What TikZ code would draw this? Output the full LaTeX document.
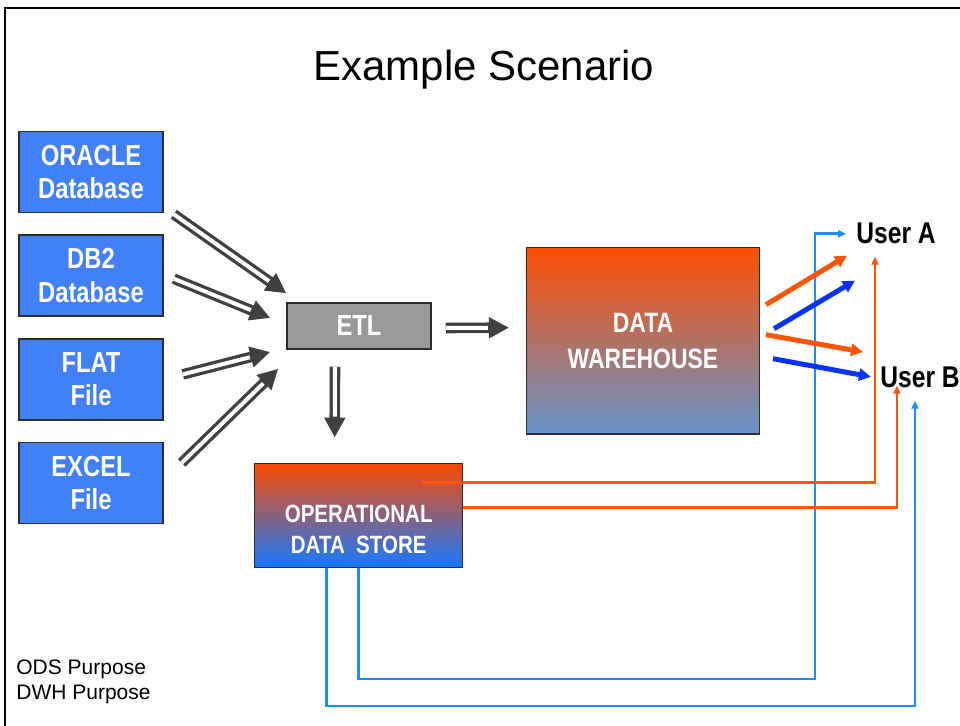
\documentclass[tikz,border=0pt]{standalone}
\usepackage{fontspec}
\setmainfont{Liberation Sans}
\newfontfamily\narrowsans[FakeStretch=0.82]{Liberation Sans}
\usepackage{tikz}
\usetikzlibrary{positioning,arrows.meta,calc}

\definecolor{srcblue}{RGB}{66,128,250}
\definecolor{boxline}{RGB}{45,45,45}
\definecolor{etlgray}{RGB}{153,153,153}
\definecolor{feedgray}{RGB}{64,64,64}
\definecolor{dwtop}{RGB}{252,78,0}
\definecolor{dwbot}{RGB}{102,150,204}
\definecolor{odstop}{RGB}{252,74,0}
\definecolor{odsbot}{RGB}{20,120,255}
\definecolor{dworange}{RGB}{255,85,0}
\definecolor{dwblue}{RGB}{5,50,255}
\definecolor{thinorange}{RGB}{255,85,10}
\definecolor{thinblue}{RGB}{30,140,255}

\begin{document}
\begin{tikzpicture}[x=0.5pt,y=-0.5pt,node distance=10.6pt,
    source/.style={draw=boxline,line width=0.75pt,fill=srcblue,text=white,minimum width=72pt,minimum height=40.5pt,inner sep=0pt,align=center,font=\narrowsans\bfseries\fontsize{14.5}{16.75}\selectfont},
    feed/.style={draw=feedgray,line width=5.3pt,-{Triangle[length=10pt,width=10pt]},postaction={draw=white,line width=2pt,-,shorten >=10.5pt}},
    dwflow/.style={line width=2.5pt,-{Triangle[length=6pt,width=6pt]}},
    odsflow/.style={line width=1.35pt,-{Triangle[length=4pt,width=3.5pt]}},
    user/.style={inner sep=0pt,anchor=base west,font=\narrowsans\bfseries\fontsize{15}{18}\selectfont}]
    \useasboundingbox (0,0) rectangle (960,726);
    \draw[line width=1pt] (5,726) -- (5,8) -- (960,8);

    \node[anchor=base,font=\fontsize{21}{25}\selectfont] (title) at (484,81) {Example Scenario};

    % sources
    \node[source] (oracle) at (91,172) {ORACLE\\Database};
    \node[source,below=of oracle] (db2) {DB2\\Database};
    \node[source,below=of db2] (flat) {FLAT\\File};
    \node[source,below=of flat] (excel) {EXCEL\\File};

    \node[draw=boxline,line width=0.75pt,fill=etlgray,text=white,minimum width=72pt,minimum height=23pt,font=\narrowsans\bfseries\fontsize{14.5}{16.75}\selectfont] (etl) at (359,326) {ETL};
    \node[draw=boxline,line width=0.75pt,top color=dwtop,bottom color=dwbot,text=white,minimum width=116.3pt,minimum height=93.3pt,align=center,font=\narrowsans\bfseries\fontsize{14}{18}\selectfont] (dw) at (643,340.7) {DATA\\WAREHOUSE};
    \node[draw=boxline,line width=0.75pt,top color=odstop,bottom color=odsbot,text=white,minimum width=104pt,minimum height=52pt,align=center,font=\narrowsans\bfseries\fontsize{12.5}{15.8}\selectfont] (ods) at (358.7,515.3) {\rule{0pt}{23pt}OPERATIONAL\\DATA\ \ STORE};

    \node[user] (usera) at (856,244) {User A};
    \node[user] (userb) at (880,388) {User B};

    \node[anchor=north west,inner sep=0pt,align=left,font=\fontsize{10.5}{12.5}\selectfont] (purpose) at (16,659) {ODS Purpose\\DWH Purpose};

    % ETL feeds
    \draw[feed] ($(oracle.south east)+(10,1)$) -- ($(etl.north west)+(0,-9)$);
    \draw[feed] ($(db2.east)+(10,3)$) -- ($(etl.west)+(-16,-8)$);
    \draw[feed] ($(flat.east)+(19,-5)$) -- ($(etl.west)+(-16,26)$);
    \draw[feed] ($(excel.north east)+(18,21)$) -- ($(etl.south west)+(-8,19)$);
    \draw[feed] ($(etl.south)+(-24,17)$) -- ($(ods.north)+(-24,-25)$);
    \draw[feed] ($(etl.east)+(14,2)$) -- ($(dw.west)+(-17,-13)$);

    % ODS to users
    \draw[odsflow,draw=thinblue] (ods.south) -- ++(0,111) -| ($(usera.west)+(-41,0)$) -- ($(usera.west)+(-10,0)$);
    \draw[odsflow,draw=thinblue] ($(ods.south)+(-32,0)$) -- ++(0,138) -| ($(userb.south west)+(35,12)$);
    \draw[odsflow,draw=thinorange] ($(ods.north east)+(-41,20)$) -| ($(usera.south west)+(19,12)$);
    \draw[odsflow,draw=thinorange] ($(ods.east)+(0,-8)$) -| ($(userb.south west)+(17,-3)$);

    % DWH to users
    \draw[dwflow,draw=dworange] ($(dw.east)+(6,-36)$) -- ($(usera.south west)+(-9,11)$);
    \draw[dwflow,draw=dwblue] ($(dw.east)+(14,-12)$) -- ($(usera.south west)+(-1,36)$);
    \draw[dwflow,draw=dworange] ($(dw.east)+(6,-6)$) -- ($(userb.north west)+(-17,-15)$);
    \draw[dwflow,draw=dwblue] ($(dw.east)+(13,18)$) -- ($(userb.west)+(-9,-1)$);
\end{tikzpicture}
\end{document}
